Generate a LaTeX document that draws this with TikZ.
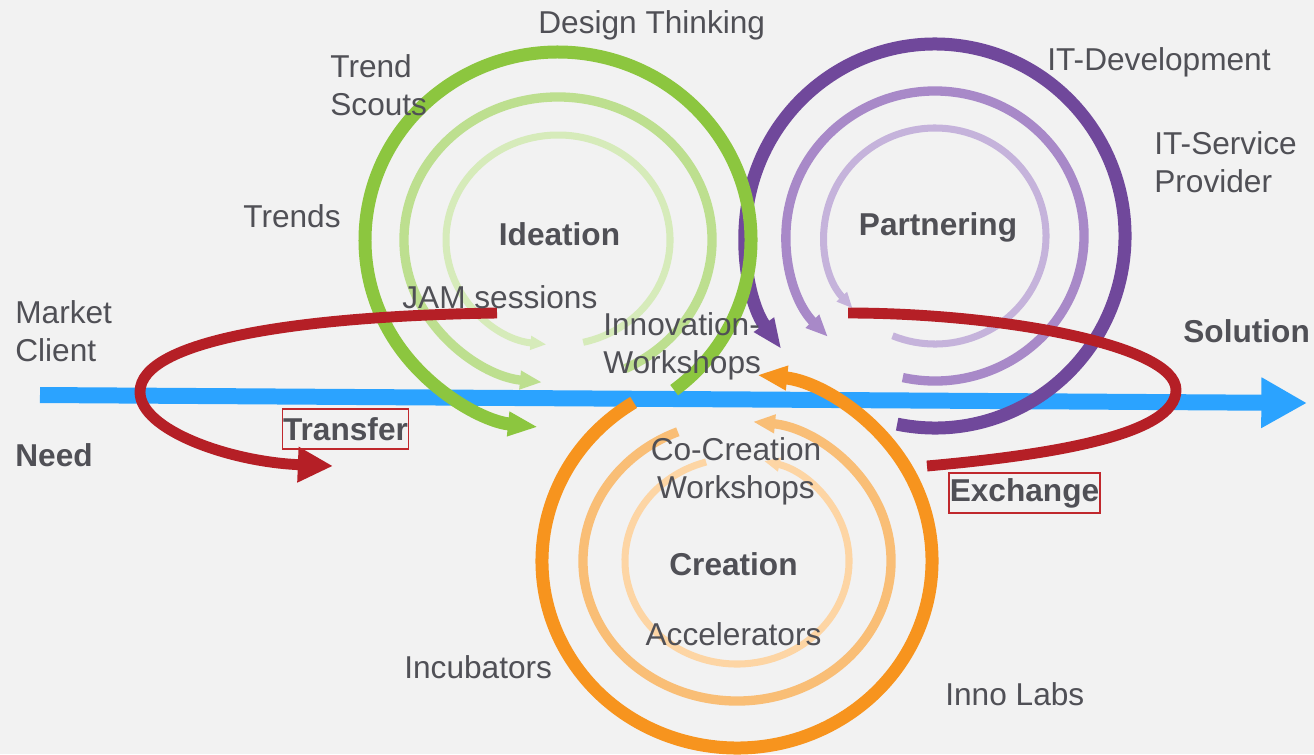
\documentclass[tikz,border=0pt]{standalone}
\usepackage{fontspec}
\setmainfont{Liberation Sans}
\usetikzlibrary{arrows.meta}
\definecolor{bggray}{RGB}{242,242,242}
\definecolor{txtgray}{RGB}{80,80,86}
\definecolor{flowblue}{RGB}{43,163,255}
\definecolor{loopred}{RGB}{181,31,38}
\definecolor{boxred}{RGB}{192,40,45}
\definecolor{greenA}{RGB}{140,198,63}
\definecolor{greenB}{RGB}{189,223,143}
\definecolor{greenC}{RGB}{214,235,186}
\definecolor{purpleA}{RGB}{112,72,155}
\definecolor{purpleB}{RGB}{168,137,200}
\definecolor{purpleC}{RGB}{197,179,219}
\definecolor{orangeA}{RGB}{247,148,30}
\definecolor{orangeB}{RGB}{249,190,118}
\definecolor{orangeC}{RGB}{253,213,164}

\begin{document}
\begin{tikzpicture}[x=0.02cm,y=0.02cm]
      \tikzstyle{ringout} = [line width=7.4pt, -{Triangle[length=17pt,width=13pt]}]
      \tikzstyle{ringmid} = [line width=5.3pt, -{Triangle[length=12.5pt,width=10pt]}]
      \tikzstyle{ringin} = [line width=4pt, -{Triangle[length=9pt,width=7.5pt]}]
      \tikzstyle{flow} = [line width=9.1pt, flowblue, -{Triangle[length=26pt,width=27pt]}]
      \tikzstyle{xfer} = [line width=6.2pt, loopred]
      \tikzstyle{lbl} = [text=txtgray, inner sep=0pt, font=\fontsize{18}{21.5}\selectfont]
      \tikzstyle{hdr} = [lbl, font=\fontsize{18}{21.5}\selectfont\bfseries]
      \tikzstyle{tag} = [hdr, draw=boxred, line width=0.8pt, inner xsep=0.5pt, minimum height=0.8cm]

      \fill[bggray] (0,0) rectangle (1314,-754);
      \useasboundingbox (0,0) rectangle (1314,-754);

      \coordinate (ideaC) at (558,-240);
      \coordinate (partC) at (935,-236);
      \coordinate (creaC) at (737,-561);
      \coordinate (needpt) at (40,-395);
      \coordinate (solpt) at (1307,-403);
      \coordinate (xferstart) at (497,-313);
      \coordinate (xferend) at (333,-466);
      \coordinate (exstart) at (848,-313);
      \coordinate (exend) at (927,-466);

      % main flow
      \draw[flow] (needpt) -- (solpt);

      % Partnering
      \draw[ringout, purpleA] ([shift={(-101.5:190 and 192)}]partC) arc[start angle=-101.5, end angle=216, x radius=190, y radius=192];
      \draw[ringmid, purpleB] ([shift={(-102.5:149 and 145)}]partC) arc[start angle=-102.5, end angle=224, x radius=149, y radius=145];
      \draw[ringin, purpleC] ([shift={(-112.5:111 and 108)}]partC) arc[start angle=-112.5, end angle=222, x radius=111, y radius=108];

      % Creation
      \draw[ringout, orangeA] ([shift={(122:195 and 187)}]creaC) arc[start angle=122, end angle=444, x radius=195, y radius=187];
      \draw[ringmid, orangeB] ([shift={(112.6:154 and 140)}]creaC) arc[start angle=112.6, end angle=444, x radius=154, y radius=140];
      \draw[ringin, orangeC] ([shift={(106:112 and 103)}]creaC) arc[start angle=106, end angle=436, x radius=112, y radius=103];

      % Ideation
      \draw[ringout, greenA] ([shift={(-53:193 and 188)}]ideaC) arc[start angle=-53, end angle=264, x radius=193, y radius=188];
      \draw[ringmid, greenB] ([shift={(-64:154 and 143)}]ideaC) arc[start angle=-64, end angle=264, x radius=154, y radius=143];
      \draw[ringin, greenC] ([shift={(-77:112 and 105)}]ideaC) arc[start angle=-77, end angle=264, x radius=112, y radius=105];

      % transfer and exchange loops
      \draw[xfer, -{Triangle[length=20pt,width=19pt]}] (xferstart) .. controls (300,-316) and (140,-340) .. (140,-392) .. controls (140,-430) and (230,-462) .. (xferend);
      \draw[xfer] (exstart) .. controls (1000,-313) and (1176,-345) .. (1176,-390) .. controls (1176,-435) and (1050,-455) .. (exend);

      \node[lbl, anchor=base west] (design) at (538,-33) {Design Thinking};
      \node[lbl, anchor=base west, align=left] (scouts) at (330,-115) {Trend\\Scouts};
      \node[lbl, anchor=base west] (trends) at (243,-227) {Trends};
      \node[hdr, anchor=base] (ideation) at (559.5,-245) {Ideation};
      \node[lbl, anchor=base west] (jam) at (402,-308) {JAM sessions};
      \node[lbl, anchor=base west, align=left] (innows) at (603,-373) {Innovation-\\Workshops};
      \node[lbl, anchor=base west, align=left] (market) at (15,-361) {Market\\Client};
      \node[hdr, anchor=base west] (need) at (15,-466) {Need};
      \node[tag] (transfer) at (345.5,-429) {Transfer};
      \node[hdr, anchor=base] (partnering) at (938,-235) {Partnering};
      \node[lbl, anchor=base west] (itdev) at (1047,-70) {IT-Development};
      \node[lbl, anchor=base west, align=left] (itserv) at (1154,-192) {IT-Service\\Provider};
      \node[hdr, anchor=base west] (solution) at (1183,-342) {Solution};
      \node[lbl, anchor=base, align=center] (cows) at (736,-498) {Co-Creation\\Workshops};
      \node[hdr, anchor=base] (creation) at (733.5,-575) {Creation};
      \node[lbl, anchor=base] (accel) at (733.5,-645) {Accelerators};
      \node[lbl, anchor=base west] (incub) at (404,-678) {Incubators};
      \node[lbl, anchor=base west] (innolabs) at (945,-705) {Inno Labs};
      \node[tag] (exchange) at (1024.5,-493) {Exchange};
    \end{tikzpicture}
\end{document}
